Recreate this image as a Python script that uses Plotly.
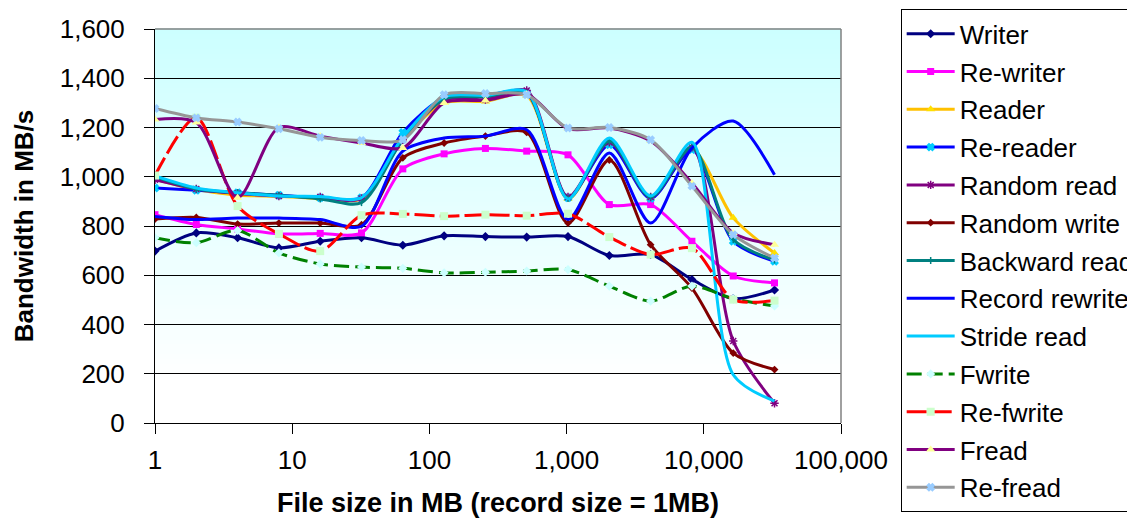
import plotly.graph_objects as go

# ---- data ----
file_sizes = [1, 2, 4, 8, 16, 32, 64, 128, 256, 512, 1024, 2048, 4096, 8192, 16384, 32768]

writer = [698, 772, 752, 711, 738, 752, 722, 760, 757, 755, 757, 680, 684, 583, 505, 540]
re_writer = [846, 806, 788, 768, 770, 772, 1032, 1093, 1115, 1104, 1089, 887, 887, 738, 597, 569]
reader = [990, 948, 925, 921, 911, 911, 1150, 1300, 1306, 1330, 910, 1137, 915, 1110, 833, 690]
re_reader = [954, 945, 935, 925, 915, 915, 1180, 1320, 1330, 1340, 915, 1130, 912, 1110, 738, 657]
random_read = [988, 950, 932, 922, 918, 912, 1150, 1313, 1313, 1350, 918, 1140, 918, 1120, 333, 80]
random_write = [828, 835, 808, 812, 812, 805, 1077, 1137, 1165, 1180, 812, 1068, 724, 548, 284, 217]
backward_read = [1000, 950, 935, 925, 910, 895, 1150, 1315, 1325, 1340, 912, 1145, 918, 1120, 745, 662]
record_rewrite = [839, 826, 832, 832, 826, 799, 1104, 1157, 1165, 1191, 826, 1096, 812, 1117, 1226, 1008]
stride_read = [1003, 954, 935, 922, 920, 915, 1160, 1325, 1330, 1345, 910, 1157, 922, 1140, 196, 89]
fwrite = [752, 732, 782, 691, 646, 633, 628, 610, 612, 617, 623, 556, 495, 556, 505, 475]
re_fwrite = [1005, 1240, 881, 768, 698, 844, 849, 840, 846, 842, 850, 755, 684, 710, 501, 497]
fread = [1232, 1220, 915, 1200, 1165, 1137, 1117, 1300, 1310, 1335, 1195, 1198, 1145, 975, 772, 724]
re_fread = [1277, 1239, 1222, 1195, 1160, 1147, 1150, 1333, 1338, 1333, 1198, 1200, 1150, 962, 765, 670]

x_tick_vals = [1, 10, 100, 1000, 10000, 100000]
x_tick_text = ["1", "10", "100", "1,000", "10,000", "100,000"]

FONT = "Liberation Sans, Arial, sans-serif"

series = [
    ("Writer", writer, "#000080", "solid", "diamond", "#000080", 7),
    ("Re-writer", re_writer, "#FF00FF", "solid", "square", "#FF00FF", 7),
    ("Reader", reader, "#FFC000", "solid", "triangle-up", "#FFE000", 8),
    ("Re-reader", re_reader, "#0000FF", "solid", "x", "#00CCFF", 6),
    ("Random read", random_read, "#800080", "solid", "asterisk-open", "#800080", 7),
    ("Random write", random_write, "#800000", "solid", "diamond", "#800000", 6),
    ("Backward read", backward_read, "#008080", "solid", "line-ns-open", "#008080", 5),
    ("Record rewrite", record_rewrite, "#0000FF", "solid", None, None, 0),
    ("Stride read", stride_read, "#00CCFF", "solid", None, None, 0),
    ("Fwrite", fwrite, "#008000", "15px,6px", "diamond", "#CCFFFF", 7),
    ("Re-fwrite", re_fwrite, "#FF0000", "20px,5px", "square", "#CCFFCC", 8),
    ("Fread", fread, "#800080", "solid", "triangle-up", "#FFFF99", 8),
    ("Re-fread", re_fread, "#969696", "solid", "x", "#99CCFF", 6),
]

fig = go.Figure()
for i, (name, vals, lc, dash, sym, mc, ms) in enumerate(series):
    kw = dict(
        x=file_sizes, y=vals, name=name, legendgroup=f"g{i}",
        line=dict(color=lc, width=3, dash=dash, shape="spline", smoothing=0.8),
    )
    if sym:
        kw["mode"] = "lines+markers"
        mk = dict(symbol=sym, size=ms, color=mc)
        if sym.endswith("open") or sym == "x":
            mk["line"] = dict(color=mc, width=1.5)
        else:
            mk["line"] = dict(width=0)
        kw["marker"] = mk
    else:
        kw["mode"] = "lines"
    fig.add_trace(go.Scatter(**kw))

# gradient background bands (white at bottom, light cyan at top)
shapes = []
N = 80
for i in range(N):
    t = (i + 0.5) / N  # 0 at bottom
    tt = max(0.0, (t - 0.1) / 0.9)
    r = round(255 - (255 - 204) * tt)
    shapes.append(dict(
        type="rect", xref="x domain", yref="y domain",
        x0=0, x1=1, y0=i / N, y1=(i + 1) / N + 0.002,
        fillcolor=f"rgb({r},255,255)", line=dict(width=0), layer="below",
    ))
# grey top/right border of plot area
shapes.append(dict(type="line", xref="x domain", yref="y domain", x0=0, x1=1, y0=1, y1=1,
                   line=dict(color="#808080", width=1.5), layer="above"))
shapes.append(dict(type="line", xref="x domain", yref="y domain", x0=1, x1=1, y0=0, y1=1,
                   line=dict(color="#808080", width=1.5), layer="above"))

fig.update_layout(
    width=1135, height=518,
    margin=dict(l=147, r=302, t=21, b=103, autoexpand=False),
    paper_bgcolor="white", plot_bgcolor="white",
    font=dict(family=FONT, size=26, color="black"),
    shapes=shapes,
    showlegend=True,
    legend=dict(
        x=1.087, y=1.05, xanchor="left", yanchor="top",
        bordercolor="black", borderwidth=1, bgcolor="white",
        font=dict(family=FONT, size=26, color="black"),
        tracegroupgap=1, itemwidth=48, traceorder="grouped",
        entrywidth=200, entrywidthmode="pixels",
        maxheight=518,
    ),
    xaxis=dict(
        type="log", range=[0, 5],
        tickvals=x_tick_vals, ticktext=x_tick_text,
        ticks="outside", ticklen=10, tickcolor="black", tickwidth=1,
        showline=True, linecolor="black", linewidth=1,
        showgrid=False, zeroline=False,
        tickfont=dict(size=26), ticklabelstandoff=4,
        title=dict(text="<b>File size in MB (record size = 1MB)</b>", font=dict(size=27), standoff=18),
    ),
    yaxis=dict(
        range=[0, 1600], dtick=200, tickformat=",",
        ticks="outside", ticklen=10, tickcolor="black", tickwidth=1,
        showline=True, linecolor="black", linewidth=1,
        showgrid=True, gridcolor="black", gridwidth=1, zeroline=False,
        tickfont=dict(size=26), ticklabelstandoff=14,
        title=dict(text="<b>Bandwidth in MB/s</b>", font=dict(size=26), standoff=18),
    ),
)

fig.write_html("out.html")
